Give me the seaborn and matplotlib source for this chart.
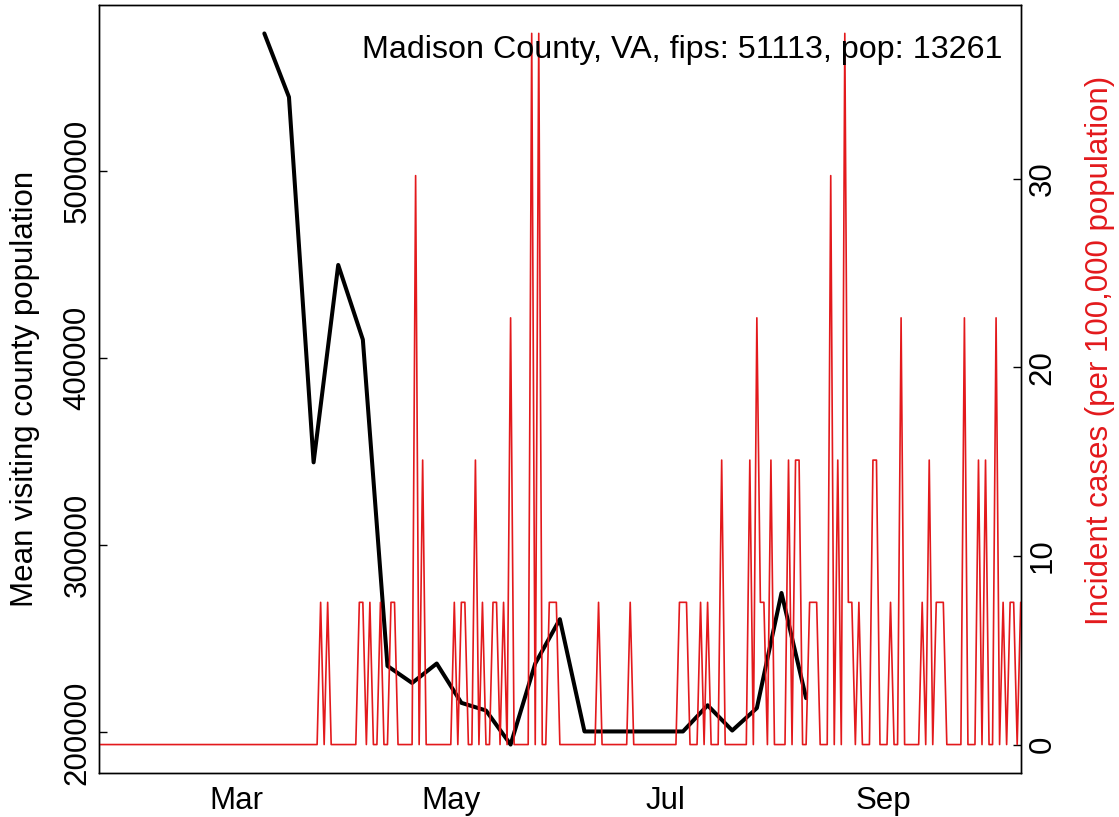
import pandas as pd
import matplotlib
matplotlib.use("Agg")
import matplotlib.pyplot as plt
import matplotlib.dates as mdates
import matplotlib.ticker as mticker
import seaborn as sns

# --------- Dades ---------
county = "Madison County, VA"
fips = 51113
pop = 13261

# mitjana setmanal de la poblacio visitant (dilluns)
week_start = "2020-03-09"
visit_pop = [573500, 539500, 344300, 449800, 409900, 235500, 226400, 236800,
             215800, 211700, 193500, 236800, 260500, 200500, 200500, 200500,
             200500, 200500, 214500, 201000, 213000, 274500, 218300]

# casos nous diaris, 2020-01-22 .. 2020-10-10
day_start = "2020-01-22"
cases_jan = [0, 0, 0, 0, 0, 0, 0, 0, 0, 0]
cases_feb = [0, 0, 0, 0, 0, 0, 0, 0, 0, 0, 0, 0, 0, 0, 0, 0, 0, 0, 0, 0,
             0, 0, 0, 0, 0, 0, 0, 0, 0]
cases_mar = [0, 0, 0, 0, 0, 0, 0, 0, 0, 0, 0, 0, 0, 0, 0, 0, 0, 0, 0, 0,
             0, 0, 0, 0, 1, 0, 1, 0, 0, 0, 0]
cases_apr = [0, 0, 0, 0, 1, 1, 0, 1, 0, 0, 1, 0, 0, 1, 1, 0, 0, 0, 0, 0,
             4, 0, 2, 0, 0, 0, 0, 0, 0, 0]
cases_may = [0, 1, 0, 1, 1, 0, 0, 2, 0, 1, 0, 0, 1, 1, 0, 1, 0, 3, 0, 0,
             0, 0, 0, 5, 0, 5, 0, 0, 1, 1, 1]
cases_jun = [0, 0, 0, 0, 0, 0, 0, 0, 0, 0, 0, 1, 0, 0, 0, 0, 0, 0, 0, 0,
             1, 0, 0, 0, 0, 0, 0, 0, 0, 0]
cases_jul = [0, 0, 0, 0, 1, 1, 1, 0, 0, 0, 1, 0, 1, 0, 0, 0, 2, 0, 0, 0,
             0, 0, 0, 0, 2, 0, 3, 1, 1, 0, 2]
cases_aug = [0, 0, 0, 0, 2, 0, 2, 2, 0, 0, 1, 1, 1, 0, 0, 0, 4, 0, 2, 0,
             5, 1, 1, 0, 1, 0, 0, 0, 2, 2, 0]
cases_sep = [0, 0, 1, 0, 0, 3, 0, 0, 0, 0, 0, 1, 0, 2, 0, 1, 1, 1, 0, 0,
             0, 0, 0, 3, 0, 0, 0, 2, 0, 2]
cases_oct = [0, 0, 3, 0, 1, 0, 1, 1, 0, 1]

cases = (cases_jan + cases_feb + cases_mar + cases_apr + cases_may + cases_jun
         + cases_jul + cases_aug + cases_sep + cases_oct)

weekly = pd.DataFrame({
    "date": pd.date_range(week_start, periods=len(visit_pop), freq="7D"),
    "visit": visit_pop,
})
daily = pd.DataFrame({
    "date": pd.date_range(day_start, periods=len(cases), freq="D"),
    "rate": [c / pop * 1e5 for c in cases],
})

# --------- Estil ---------
sns.set_style("white")
plt.rcParams["font.family"] = ["Liberation Sans", "DejaVu Sans"]
plt.rcParams["text.color"] = "black"
plt.rcParams["axes.labelcolor"] = "black"
plt.rcParams["xtick.color"] = "black"
plt.rcParams["ytick.color"] = "black"
FS = 22.5
RED = "#E3191C"

fig, ax = plt.subplots(figsize=(11.19, 8.17), dpi=100)
fig.subplots_adjust(left=99 / 1119, right=1020.7 / 1119,
                    bottom=44 / 817, top=812 / 817)

sns.lineplot(data=weekly, x="date", y="visit", ax=ax, color="black",
             linewidth=2.9, estimator=None)
ax.set_ylim(178300, 588700)
ax.set_yticks([200000, 300000, 400000, 500000])
ax.yaxis.set_major_formatter(mticker.FuncFormatter(lambda v, p: f"{int(v)}"))
ax.set_xlabel("")
ax.set_ylabel("Mean visiting county population", fontsize=FS, color="black")
ax.yaxis.set_label_coords(-74 / 921.7, 0.5)
ax.yaxis.label.set_va("center")

ax2 = ax.twinx()
sns.lineplot(data=daily, x="date", y="rate", ax=ax2, color=RED,
             linewidth=1.2, estimator=None)
ax2.set_ylim(-1.508, 39.21)
ax2.set_yticks([0, 10, 20, 30])
ax2.set_ylabel("")
fig.text(1100 / 1119, 1 - 350 / 817, "Incident cases (per 100,000 population)",
         rotation=90, ha="center", va="center", color=RED, fontsize=FS)

xmin, xmax = pd.Timestamp("2020-01-22"), pd.Timestamp("2020-10-10")
ax.set_xlim(xmin, xmax)
ax2.set_xlim(xmin, xmax)
ax.xaxis.set_major_locator(mdates.MonthLocator(bymonth=[3, 5, 7, 9]))
ax.xaxis.set_major_formatter(mdates.DateFormatter("%b"))

ax.tick_params(axis="x", direction="in", length=5.5, width=1, labelsize=FS,
               pad=9.5, colors="black")
ax.tick_params(axis="y", direction="in", length=6, width=1, labelsize=FS,
               labelrotation=90, pad=4.5, colors="black")
ax2.tick_params(axis="y", direction="in", length=6, width=1, labelsize=FS,
                labelrotation=90, pad=5, colors="black")
for lbl in ax.get_yticklabels() + ax2.get_yticklabels():
    lbl.set_va("center")

for a in (ax, ax2):
    for s in a.spines.values():
        s.set_visible(True)
        s.set_color("black")
        s.set_linewidth(1.0)

fig.text(1003 / 1119, 1 - 58 / 817,
         f"{county}, fips: {fips}, pop: {pop}",
         ha="right", va="baseline", fontsize=23.2, color="black")

fig.savefig("out.png", dpi=100)
